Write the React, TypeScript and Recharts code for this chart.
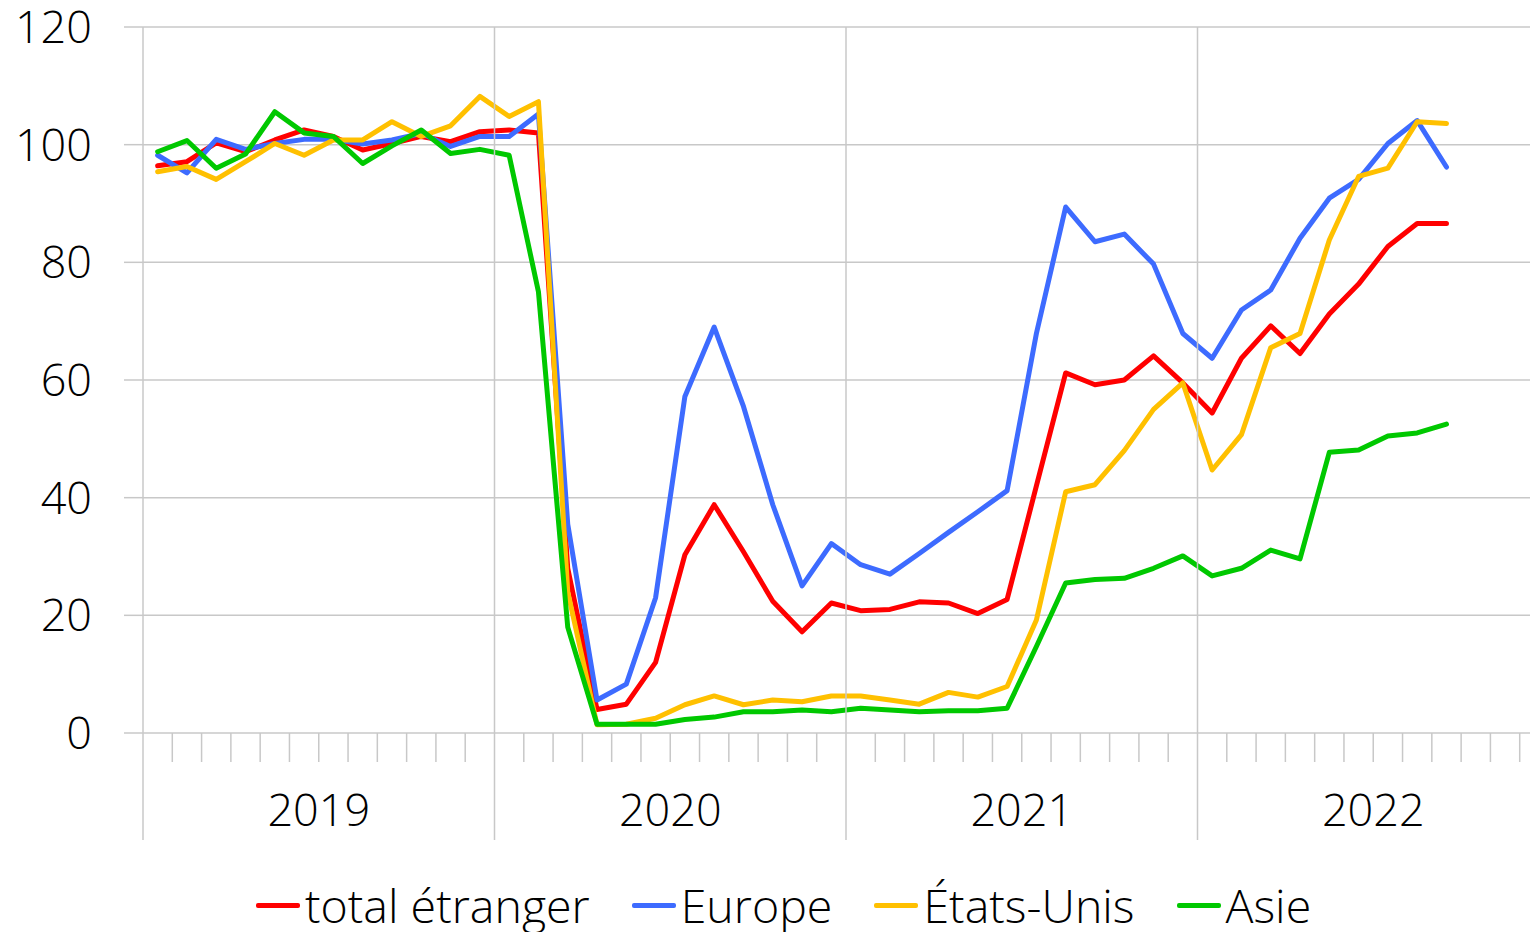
import { CartesianGrid, Line, LineChart, XAxis, YAxis } from "recharts";

// Jan 2019 – Sep 2022, monthly index
const months = [
  "2019-01", "2019-02", "2019-03", "2019-04", "2019-05", "2019-06", "2019-07", "2019-08", "2019-09", "2019-10", "2019-11", "2019-12",
  "2020-01", "2020-02", "2020-03", "2020-04", "2020-05", "2020-06", "2020-07", "2020-08", "2020-09", "2020-10", "2020-11", "2020-12",
  "2021-01", "2021-02", "2021-03", "2021-04", "2021-05", "2021-06", "2021-07", "2021-08", "2021-09", "2021-10", "2021-11", "2021-12",
  "2022-01", "2022-02", "2022-03", "2022-04", "2022-05", "2022-06", "2022-07", "2022-08", "2022-09",
];
const years = ["2019", "2020", "2021", "2022"];
const yTicks = [0, 20, 40, 60, 80, 100, 120];

const totalEtranger = [
  96.4, 97.1, 100.3, 98.8, 100.8, 102.5, 101.4, 99.1, 100.2, 101.4, 100.5, 102.2,
  102.5, 102.0, 28, 4.0, 4.9, 12.0, 30.3, 38.8, 30.8, 22.4, 17.2, 22.1,
  20.8, 21.0, 22.3, 22.1, 20.3, 22.7, 42, 61.2, 59.2, 60.0, 64.1, 59.5,
  54.4, 63.7, 69.2, 64.5, 71.2, 76.3, 82.7, 86.6, 86.6,
];
const europe = [
  98.2, 95.2, 100.9, 99.2, 100.2, 100.9, 100.9, 100.1, 100.8, 101.9, 99.7, 101.4,
  101.4, 105.2, 35.5, 5.6, 8.3, 23.0, 57.2, 69.0, 55.5, 38.8, 25.0, 32.2,
  28.6, 27.0, 30.5, 34.1, 37.6, 41.2, 67.9, 89.4, 83.5, 84.8, 79.7, 67.9,
  63.7, 71.9, 75.3, 84.1, 90.9, 94.1, 100.2, 104.1, 96.2,
];
const etatsUnis = [
  95.4, 96.3, 94.1, 97.1, 100.2, 98.2, 100.8, 100.8, 103.9, 101.4, 103.2, 108.2,
  104.8, 107.3, 24, 1.4, 1.5, 2.5, 4.8, 6.3, 4.8, 5.6, 5.3, 6.3,
  6.3, 5.6, 4.9, 6.9, 6.1, 7.9, 19.2, 41.0, 42.2, 48.0, 55.0, 59.5,
  44.7, 50.7, 65.5, 67.9, 83.8, 94.6, 96.0, 103.9, 103.6,
];
const asie = [
  98.8, 100.7, 96.0, 98.4, 105.6, 102.0, 101.4, 96.8, 99.8, 102.5, 98.5, 99.2,
  98.2, 75, 18, 1.5, 1.5, 1.5, 2.3, 2.7, 3.6, 3.6, 3.9, 3.6,
  4.2, 3.9, 3.6, 3.8, 3.8, 4.2, 14.7, 25.5, 26.1, 26.3, 28.0, 30.1,
  26.7, 28.0, 31.1, 29.6, 47.7, 48.1, 50.5, 51.0, 52.5,
];

const SERIES = [
  { key: "total", name: "total étranger", color: "#FF0000", values: totalEtranger },
  { key: "europe", name: "Europe", color: "#3D6BFF", values: europe },
  { key: "usa", name: "États-Unis", color: "#FFC000", values: etatsUnis },
  { key: "asie", name: "Asie", color: "#00C800", values: asie },
];

const data = months.map((m, i) => {
  const row: Record<string, number | string> = { month: m, x: i + 0.5 };
  SERIES.forEach((s) => (row[s.key] = s.values[i]));
  return row;
});

const monthTicks = Array.from({ length: years.length * 12 + 1 }, (_, i) => i);

const FONT = "'Open Sans', sans-serif";
const FONT_SIZE = 45;
const FONT_WEIGHT = 350;
const GRID = "#c8c8c8";
const PLOT_TOP = 27;
const PLOT_BOTTOM = 733;

function MonthTick(props: any) {
  const { x, y, payload } = props;
  const v = payload.value as number;
  const isYear = v % 12 === 0;
  return (
    <g>
      {isYear ? (
        <line x1={x} x2={x} y1={y - (PLOT_BOTTOM - PLOT_TOP)} y2={y + 107} stroke={GRID} strokeWidth={1.5} />
      ) : (
        <line x1={x} x2={x} y1={y} y2={y + 29} stroke={GRID} strokeWidth={1.5} />
      )}
      {v % 12 === 6 && (
        <text
          x={x}
          y={y + 77}
          dy="0.35em"
          textAnchor="middle"
          fontSize={FONT_SIZE}
          fontWeight={FONT_WEIGHT}
          fontFamily={FONT}
          fill="#000"
        >
          {years[(v - 6) / 12]}
        </text>
      )}
    </g>
  );
}

export default function App() {
  return (
    <div
      style={{
        position: "fixed",
        left: 0,
        top: 0,
        width: 1530,
        height: 932,
        overflow: "hidden",
        background: "#fff",
      }}
    >
      <LineChart width={1560} height={932} data={data} margin={{ top: PLOT_TOP, right: 11, left: 0, bottom: 0 }}>
        <CartesianGrid vertical={false} stroke={GRID} strokeWidth={1.5} />
        <XAxis
          dataKey="x"
          type="number"
          domain={[0, 48]}
          ticks={monthTicks}
          interval={0}
          tick={<MonthTick />}
          tickLine={false}
          axisLine={false}
          tickSize={0}
          tickMargin={0}
          height={932 - PLOT_BOTTOM}
        />
        <YAxis
          domain={[0, 120]}
          ticks={yTicks}
          interval={0}
          width={143}
          tickSize={19}
          tickMargin={32}
          axisLine={false}
          tickLine={{ stroke: GRID, strokeWidth: 1.5 }}
          tick={{ fontSize: FONT_SIZE, fontWeight: FONT_WEIGHT, fontFamily: FONT, fill: "#000" }}
        />
        {SERIES.map((s) => (
          <Line
            key={s.key}
            dataKey={s.key}
            name={s.name}
            type="linear"
            stroke={s.color}
            strokeWidth={5}
            strokeLinejoin="round"
            strokeLinecap="round"
            dot={false}
            isAnimationActive={false}
          />
        ))}
      </LineChart>
      <div
        style={{
          position: "absolute",
          left: 256,
          top: 879,
          display: "flex",
          alignItems: "center",
          gap: 42,
          fontFamily: FONT,
          fontSize: 46.5,
          fontWeight: FONT_WEIGHT,
          lineHeight: "52px",
          color: "#000",
          whiteSpace: "nowrap",
        }}
      >
        {SERIES.map((s) => (
          <div key={s.key} style={{ display: "flex", alignItems: "center" }}>
            <span style={{ width: 44, height: 5, background: s.color, borderRadius: 2, marginRight: 5 }} />
            <span>{s.name}</span>
          </div>
        ))}
      </div>
    </div>
  );
}
